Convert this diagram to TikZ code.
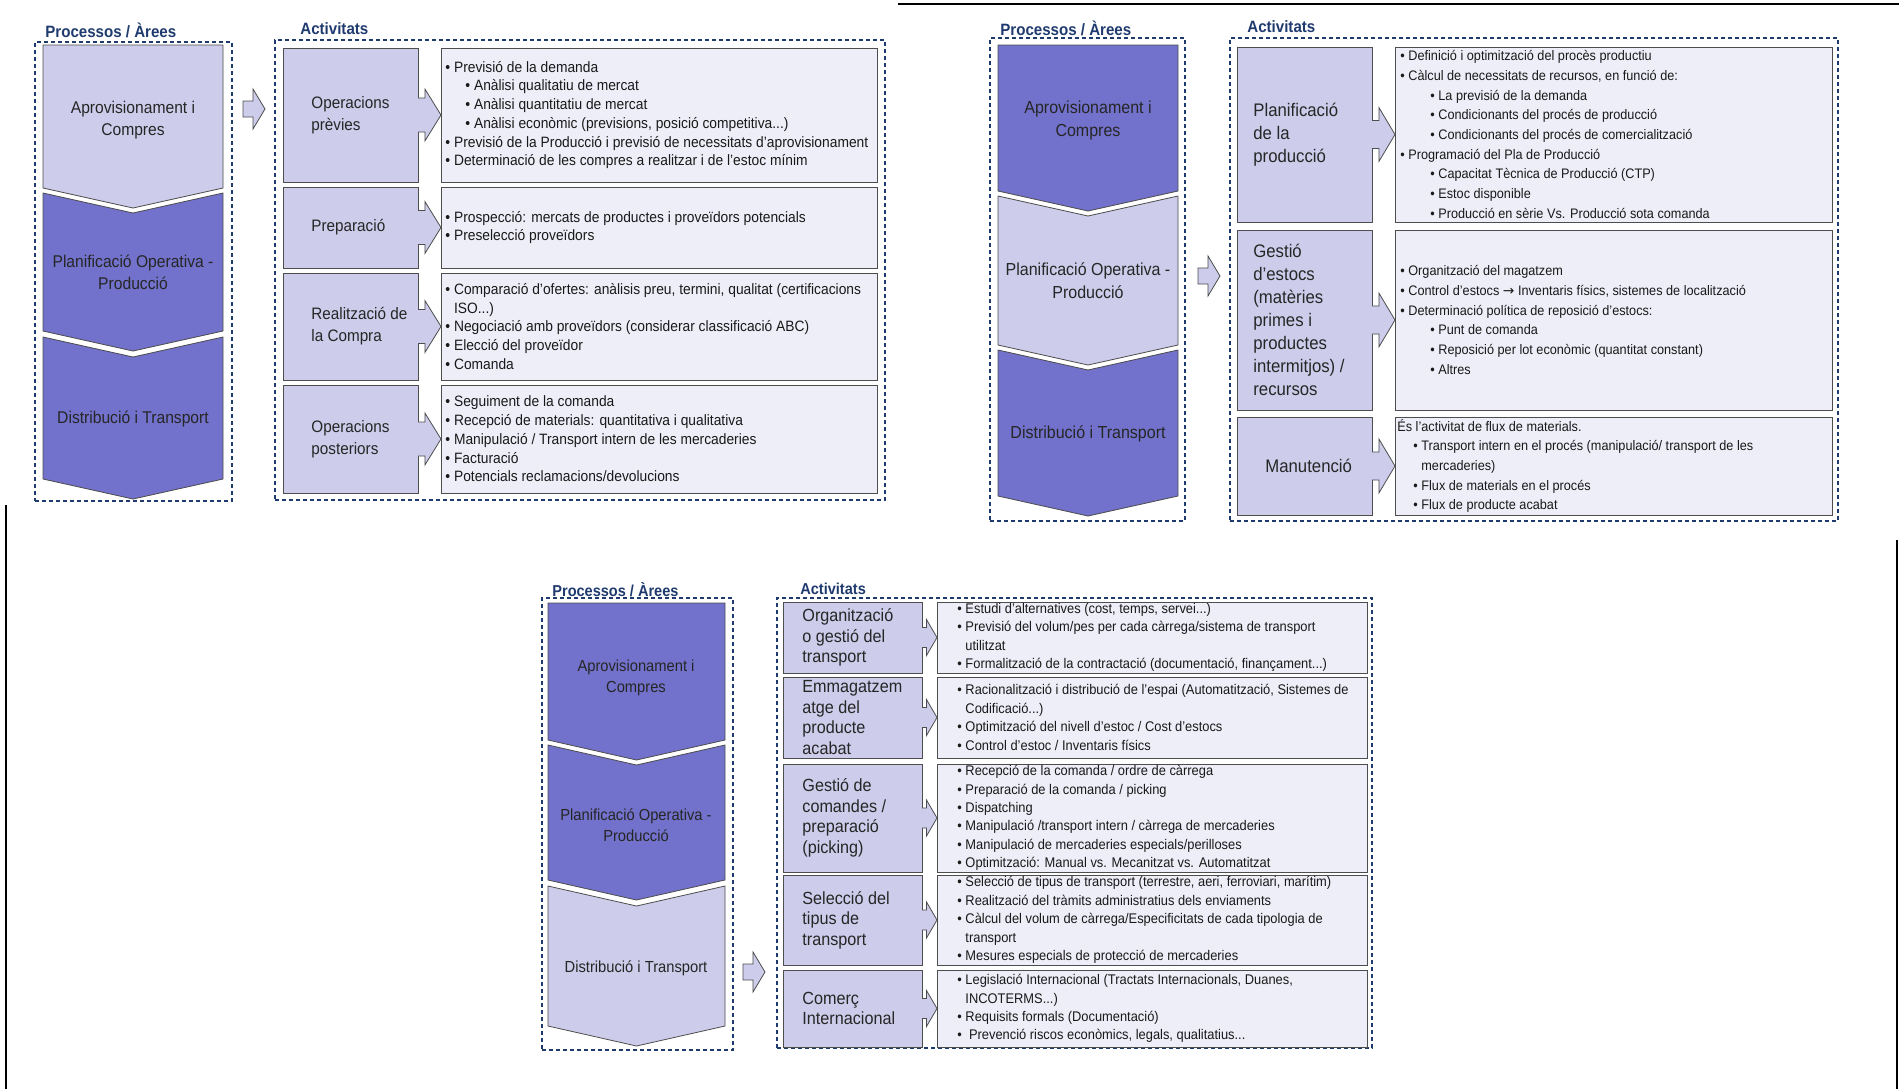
\documentclass[tikz,border=0pt]{standalone}
\usepackage{fontspec}
\setmainfont{Liberation Sans}[FakeStretch=0.92]
\newfontfamily\symfont{DejaVu Sans}
\usetikzlibrary{fit,calc}
\definecolor{navy}{HTML}{1F3A6E}
\definecolor{lav}{HTML}{CDCDEB}
\definecolor{deep}{HTML}{7272CC}
\definecolor{pale}{HTML}{EEEEF8}
\definecolor{boxline}{HTML}{4D4D4D}

\newcommand{\bu}{\textbullet\ }
\newcommand{\subbu}[1]{\hspace*{#1}\textbullet\ }
\newcommand{\contind}{\hphantom{\textbullet\ }}

% chevron: x left, x right, y top, notch, y bottom, fill
\newcommand{\chev}[6]{%
  \draw[chevfill=#6] (#1,#3) -- ({(#1+#2)/2},{#3+#4}) -- (#2,#3) -- (#2,#5)
    -- ({(#1+#2)/2},{#5+20}) -- (#1,#5) -- cycle;}

% small block arrow from a label box to its text box
\newcommand{\sarr}[4]{%
  \fill[lav] ($(#1.east)+(-1.5,-#4)$) -- ($(#1.east)!0.3!(#2.west)+(0,-#4)$)
    -- ($(#1.east)!0.3!(#2.west)+(0,-#3)$) -- (#2.west)
    -- ($(#1.east)!0.3!(#2.west)+(0,#3)$) -- ($(#1.east)!0.3!(#2.west)+(0,#4)$)
    -- ($(#1.east)+(-1.5,#4)$) -- cycle;
  \draw[boxline,line width=0.4pt] ($(#1.east)+(0,-#4)$) -- ($(#1.east)!0.3!(#2.west)+(0,-#4)$)
    -- ($(#1.east)!0.3!(#2.west)+(0,-#3)$) -- (#2.west)
    -- ($(#1.east)!0.3!(#2.west)+(0,#3)$) -- ($(#1.east)!0.3!(#2.west)+(0,#4)$)
    -- ($(#1.east)+(0,#4)$);}

% big block arrow between the two panels
\newcommand{\bigarr}[1]{%
  \draw[bigarrow] (#1) ++(0,-8) -- ++(10,0) -- ++(0,-12) -- ++(12,20)
    -- ++(-12,20) -- ++(0,-12) -- ++(-10,0) -- cycle;}

\tikzset{
  dashbox/.style={draw=navy, line width=0.6pt, dash pattern=on 2.2pt off 1.3pt, inner sep=0pt, outer sep=0pt},
  labbox/.style={draw=boxline, line width=0.4pt, fill=lav, inner sep=0pt, outer sep=0pt},
  cntbox/.style={draw=boxline, line width=0.4pt, fill=pale, inner sep=0pt, outer sep=0pt},
  chevfill/.style={draw=boxline, line width=0.4pt, fill=#1},
  bigarrow/.style={draw=boxline, line width=0.4pt, fill=lav},
  frameline/.style={draw=black, line width=0.6pt},
  ttl/.style={anchor=west, inner sep=0pt, text=navy, font=\bfseries\fontsize{#1}{#1}\selectfont},
  chvtxt/.style 2 args={align=center, inner sep=0pt, text=black!85, font=\fontsize{#1}{#2}\selectfont},
  labtxt/.style 2 args={anchor=west, align=left, inner sep=0pt, text=black!85, font=\fontsize{#1}{#2}\selectfont},
  cnttxt/.style 2 args={anchor=west, align=left, inner sep=0pt, text=black!90, font=\fontsize{#1}{#2}\selectfont},
}

\begin{document}
\begin{tikzpicture}[x=0.5pt,y=-0.5pt]
  \useasboundingbox (0,0) rectangle (1903,1089);

  % page frame pieces
  \coordinate (frTa) at (898,4);
  \coordinate (frTb) at (1899,4);
  \coordinate (frLa) at (6,505);
  \coordinate (frLb) at (6,1089);
  \coordinate (frRa) at (1897,540);
  \coordinate (frRb) at (1897,1089);
  \draw[frameline] (frTa) -- (frTb);
  \draw[frameline] (frLa) -- (frLb);
  \draw[frameline] (frRa) -- (frRb);

  % ---- top left: aprovisionament i compres
  \path
  (45,30) node[ttl=8.2] (ttlA1) {Processos / Àrees}
  (300,29) node[ttl=8.2] (ttlA2) {Activitats}
  ;
  \node[dashbox,fit={(35,42) (232,501)}] (procA) {};
  \node[dashbox,fit={(275,40) (885,500)}] (actA) {};
  \chev{43}{223}{45}{0}{188}{lav}
  \chev{43}{223}{193}{20}{331}{deep}
  \chev{43}{223}{337}{20}{479}{deep}
  \path
  (133,120) node[chvtxt={8.5}{11}] (chvA1) {Aprovisionament i\\Compres}
  (133,272) node[chvtxt={8.5}{11}] (chvA2) {Planificació Operativa -\\Producció}
  (133,419) node[chvtxt={8.5}{11}] (chvA3) {Distribució i Transport}
  ;
  \coordinate (gapA) at (243,109);
  \bigarr{gapA}
  \foreach \n/\t/\b in {1/48/182, 2/187/268, 3/273/380, 4/385/493} {
    \node[labbox,fit={(283,\t) (418,\b)}] (labA\n) {};
    \node[cntbox,fit={(441,\t) (877,\b)}] (cntA\n) {};
    \sarr{labA\n}{cntA\n}{26}{17}
  }
  \path
  (311,115) node[labtxt={8.3}{11}] (labA1x) {Operacions\\prèvies}
  (311,227.5) node[labtxt={8.3}{11}] (labA2x) {Preparació}
  (311,326.5) node[labtxt={8.3}{11}] (labA3x) {Realització de\\la Compra}
  (311,439) node[labtxt={8.3}{11}] (labA4x) {Operacions\\posteriors}
  ;
  \path
  (445,115) node[cnttxt={7.5}{9.35}] (cntA1x) {\bu Previsió de la demanda\\
    \subbu{10pt}Anàlisi qualitatiu de mercat\\
    \subbu{10pt}Anàlisi quantitatiu de mercat\\
    \subbu{10pt}Anàlisi econòmic (previsions, posició competitiva...)\\
    \bu Previsió de la Producció i previsió de necessitats d’aprovisionament\\
    \bu Determinació de les compres a realitzar i de l’estoc mínim}
  (445,227.5) node[cnttxt={7.5}{9.35}] (cntA2x) {\bu Prospecció: mercats de productes i proveïdors potencials\\
    \bu Preselecció proveïdors}
  (445,326.5) node[cnttxt={7.5}{9.35}] (cntA3x) {\bu Comparació d’ofertes: anàlisis preu, termini, qualitat (certificacions\\
    \contind ISO...)\\
    \bu Negociació amb proveïdors (considerar classificació ABC)\\
    \bu Elecció del proveïdor\\
    \bu Comanda}
  (445,439) node[cnttxt={7.5}{9.35}] (cntA4x) {\bu Seguiment de la comanda\\
    \bu Recepció de materials: quantitativa i qualitativa\\
    \bu Manipulació / Transport intern de les mercaderies\\
    \bu Facturació\\
    \bu Potencials reclamacions/devolucions}
  ;

  % ---- top right: planificacio operativa
  \path
  (1000,28) node[ttl=8.2] (ttlB1) {Processos / Àrees}
  (1247,27) node[ttl=8.2] (ttlB2) {Activitats}
  ;
  \node[dashbox,fit={(990,38) (1185,521)}] (procB) {};
  \node[dashbox,fit={(1230,38) (1838,521)}] (actB) {};
  \chev{998}{1178}{45}{0}{191}{deep}
  \chev{998}{1178}{196}{20}{345}{lav}
  \chev{998}{1178}{350}{20}{496}{deep}
  \path
  (1088,120) node[chvtxt={8.7}{11.5}] (chvB1) {Aprovisionament i\\Compres}
  (1088,281) node[chvtxt={8.7}{11.5}] (chvB2) {Planificació Operativa -\\Producció}
  (1088,434) node[chvtxt={8.7}{11.5}] (chvB3) {Distribució i Transport}
  ;
  \coordinate (gapB) at (1198,276);
  \bigarr{gapB}
  \foreach \n/\t/\b in {1/47/222, 2/230/410, 3/417/515} {
    \node[labbox,fit={(1237,\t) (1372,\b)}] (labB\n) {};
    \node[cntbox,fit={(1395,\t) (1832,\b)}] (cntB\n) {};
    \sarr{labB\n}{cntB\n}{27}{14}
  }
  \path
  (1253,134.5) node[labtxt={9.1}{11.5}] (labB1x) {Planificació\\de la\\producció}
  (1253,320) node[labtxt={9.1}{11.5}] (labB2x) {Gestió\\d’estocs\\(matèries\\primes i\\productes\\intermitjos) /\\recursos}
  (1265,466) node[labtxt={9.1}{11.5}] (labB3x) {Manutenció}
  ;
  \path
  (1400,134.5) node[cnttxt={6.9}{9.85}] (cntB1x) {\bu Definició i optimització del procès productiu\\
    \bu Càlcul de necessitats de recursos, en funció de:\\
    \subbu{15pt}La previsió de la demanda\\
    \subbu{15pt}Condicionants del procés de producció\\
    \subbu{15pt}Condicionants del procés de comercialització\\
    \bu Programació del Pla de Producció\\
    \subbu{15pt}Capacitat Tècnica de Producció (CTP)\\
    \subbu{15pt}Estoc disponible\\
    \subbu{15pt}Producció en sèrie Vs. Producció sota comanda}
  (1400,320) node[cnttxt={6.9}{9.85}] (cntB2x) {\bu Organització del magatzem\\
    \bu Control d’estocs {\symfont →} Inventaris físics, sistemes de localització\\
    \bu Determinació política de reposició d’estocs:\\
    \subbu{15pt}Punt de comanda\\
    \subbu{15pt}Reposició per lot econòmic (quantitat constant)\\
    \subbu{15pt}Altres}
  (1397,466) node[cnttxt={6.9}{9.85}] (cntB3x) {És l’activitat de flux de materials.\\
    \subbu{8pt}Transport intern en el procés (manipulació/ transport de les\\
    \hspace*{8pt}\contind mercaderies)\\
    \subbu{8pt}Flux de materials en el procés\\
    \subbu{8pt}Flux de producte acabat}
  ;

  % ---- bottom: distribucio i transport
  \path
  (552,590) node[ttl=7.9] (ttlC1) {Processos / Àrees}
  (800,589) node[ttl=7.9] (ttlC2) {Activitats}
  ;
  \node[dashbox,fit={(542,598) (733,1050)}] (procC) {};
  \node[dashbox,fit={(777,598) (1372,1048)}] (actC) {};
  \chev{548}{725}{603}{0}{740}{deep}
  \chev{548}{725}{745}{20}{880}{deep}
  \chev{548}{725}{886}{20}{1026}{lav}
  \path
  (636,678) node[chvtxt={8}{10.5}] (chvC1) {Aprovisionament i\\Compres}
  (636,825) node[chvtxt={8}{10.5}] (chvC2) {Planificació Operativa -\\Producció}
  (636,968) node[chvtxt={8}{10.5}] (chvC3) {Distribució i Transport}
  ;
  \coordinate (gapC) at (743,972);
  \bigarr{gapC}
  \foreach \n/\t/\b in {1/602/673, 2/677/758, 3/764/872, 4/875/965, 5/970/1047} {
    \node[labbox,fit={(783,\t) (922,\b)}] (labC\n) {};
    \node[cntbox,fit={(937,\t) (1367,\b)}] (cntC\n) {};
    \sarr{labC\n}{cntC\n}{18}{10}
  }
  \path
  (802,637.5) node[labtxt={8.8}{10.25}] (labC1x) {Organització\\o gestió del\\transport}
  (802,717.5) node[labtxt={8.8}{10.25}] (labC2x) {Emmagatzem\\atge del\\producte\\acabat}
  (802,818) node[labtxt={8.8}{10.25}] (labC3x) {Gestió de\\comandes /\\preparació\\(picking)}
  (802,920) node[labtxt={8.8}{10.25}] (labC4x) {Selecció del\\tipus de\\transport}
  (802,1008.5) node[labtxt={8.8}{10.25}] (labC5x) {Comerç\\Internacional}
  ;
  \path
  (957,637.5) node[cnttxt={7}{9.2}] (cntC1x) {\bu Estudi d’alternatives (cost, temps, servei...)\\
    \bu Previsió del volum/pes per cada càrrega/sistema de transport\\
    \contind utilitzat\\
    \bu Formalització de la contractació (documentació, finançament...)}
  (957,717.5) node[cnttxt={7}{9.2}] (cntC2x) {\bu Racionalització i distribució de l’espai (Automatització, Sistemes de\\
    \contind Codificació...)\\
    \bu Optimització del nivell d’estoc / Cost d’estocs\\
    \bu Control d’estoc / Inventaris físics}
  (957,818) node[cnttxt={7}{9.2}] (cntC3x) {\bu Recepció de la comanda / ordre de càrrega\\
    \bu Preparació de la comanda / picking\\
    \bu Dispatching\\
    \bu Manipulació /transport intern / càrrega de mercaderies\\
    \bu Manipulació de mercaderies especials/perilloses\\
    \bu Optimització: Manual vs. Mecanitzat vs. Automatitzat}
  (957,920) node[cnttxt={7}{9.2}] (cntC4x) {\bu Selecció de tipus de transport (terrestre, aeri, ferroviari, marítim)\\
    \bu Realització del tràmits administratius dels enviaments\\
    \bu Càlcul del volum de càrrega/Especificitats de cada tipologia de\\
    \contind transport\\
    \bu Mesures especials de protecció de mercaderies}
  (957,1008.5) node[cnttxt={7}{9.2}] (cntC5x) {\bu Legislació Internacional (Tractats Internacionals, Duanes,\\
    \contind INCOTERMS...)\\
    \bu Requisits formals (Documentació)\\
    \textbullet\ \ Prevenció riscos econòmics, legals, qualitatius...}
  ;
\end{tikzpicture}
\end{document}
